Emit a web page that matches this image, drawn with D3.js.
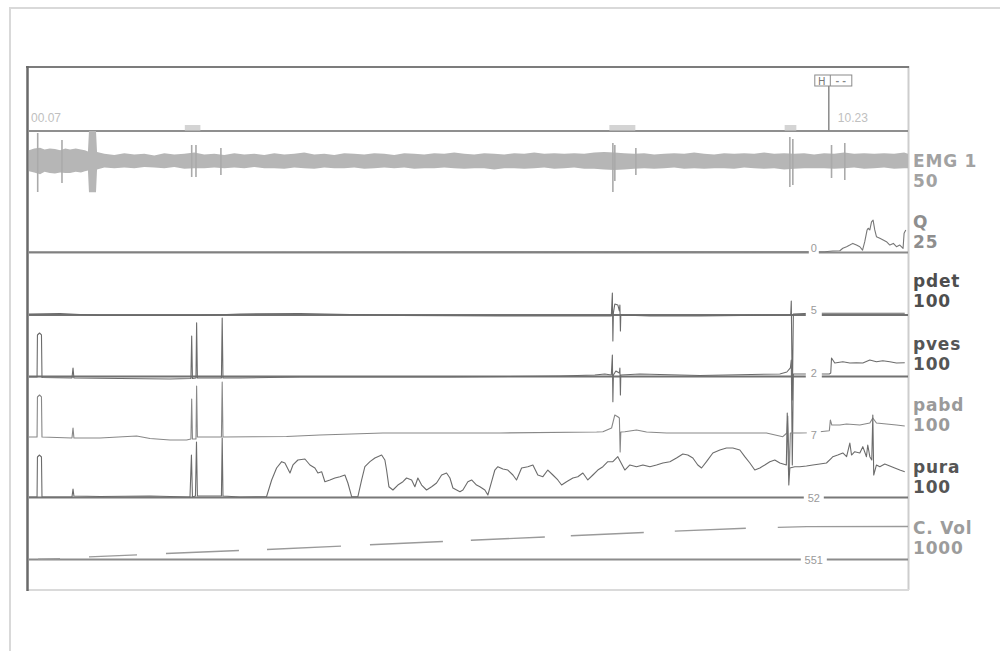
<!DOCTYPE html>
<html><head><meta charset="utf-8">
<script src="https://cdn.jsdelivr.net/npm/d3@7"></script>
<style>body{margin:0;background:#fff;}svg{display:block}</style>
</head><body>
<svg id="c" width="1000" height="651"></svg>
<script>
// ---------------- DATA ----------------
const channelNames  = ["EMG 1", "Q", "pdet", "pves", "pabd", "pura", "C. Vol"];
const rangeLabels   = ["50", "25", "100", "100", "100", "100", "1000"];
const channelRanges = [50, 25, 100, 100, 100, 100, 1000];
const timeLabels     = ["00.07", "10.23"];
const timeLabelTimes = [7, 623];          // seconds
const cursorTime = 623;
const cursorLabels = ["0", "5", "2", "7", "52", "551"];  // Q, pdet, pves, pabd, pura, C.Vol at cursor
const eventMarks = [[127, 139], [454, 474], [589, 598]];

// EMG envelope [t, up, down]
const emgEnvelope = [[7,18,17],[11,21,19],[15.5,22,22],[19,19,18],[23,21,20],[27,20,21],[31,18,19],[35,21,20],[38.6,19,20],[43,21,18],[47,19,19],[50.1,18,17],[52.4,16,16],[53.2,50,52],[58.6,50,52],[59.4,15,14],
[65,12,11],[72.7,10,12],[80.4,13,11],[88.1,11,12],[95.8,12,10],[103.5,9,11],[111.2,13,12],[118.9,11,10],[126.6,12,13],[134.3,14,12],[142,11,12],[149.7,12,11],[157.4,10,12],[165.1,13,11],[172.8,11,12],[180.5,12,10],[188.2,10,12],[195.9,13,12],[203.6,11,13],[211.3,12,11],[219,14,12],[226.7,11,13],[234.4,12,11],[242.1,10,12],[249.8,13,12],[257.5,12,11],[265.2,11,13],[272.9,13,12],[280.6,12,11],[288.3,10,12],[296,13,11],[303.7,12,13],[311.4,11,12],[319.1,13,12],[326.8,12,11],[334.5,14,12],[342.2,12,13],[349.9,11,12],[357.6,13,12],[365.3,12,14],[373,11,12],[380.7,13,12],[388.4,12,13],[396.1,14,12],[403.8,12,11],[411.5,13,13],[419.2,12,12],[426.9,13,11],[434.6,12,13],[442.3,14,13],[450,15,14],[457.7,14,15],[465.4,13,14],[473.1,12,13],[480.8,13,12],[488.5,11,13],[496.2,12,12],[503.9,13,11],[511.6,12,13],[519.3,14,12],[527,12,13],[534.7,11,12],[542.4,13,12],[550.1,12,13],[557.8,13,11],[565.5,12,12],[573.2,14,13],[580.9,12,12],[588.6,13,14],[596.3,12,13],[604,13,12],[611.7,11,12],[619.4,13,12],[627.1,12,13],[634.8,14,12],[642.5,12,11],[650.2,13,13],[657.9,12,12],[665.6,13,11],[673.3,12,13],[681,14,12],[684,12,12]];
// EMG spikes [t, up, down]
const emgSpikes = [[13.7,46.7,51.7],[32.4,35,36.7],[132.3,26.7,26.7],[135.6,26.7,26.7],[154.8,21.7,23.3],[456.7,30,51.7],[458.2,26.7,33.3],[474.4,21.7,23.3],[593,40,43.3],[595.3,36.7,40],[625.1,26.7,28.3],[635.3,30,31.7]];

const qData = [[7,0.2],[619.9,0.3],[626,0.6],[631.5,0.75],[633.8,1.75],[636.7,2.4],[639.2,3.1],[641.5,3.8],[644.3,3.1],[646.9,2.4],[649,1.0],[650.7,4.5],[652.5,9.4],[653.3,10.1],[654.6,9.4],[655.9,12.8],[657.1,13.5],[658.4,9.4],[659.7,6.6],[662.3,5.9],[664.9,5.2],[667.4,4.5],[670,3.1],[672.7,3.8],[675.1,2.4],[677.7,3.1],[680.2,1.75],[681,8.0],[682.3,9.4]];

const pdetData = [[7,1.7],[30.9,2.5],[61.7,-0.8],[138.7,-0.8],[169.5,1.7],[215.7,2.5],[292.7,-0.8],[369.7,-1.7],[455.5,-1.7],[456.3,36.7],[456.7,-43.3],[457.1,3.3],[458.2,18.3],[460.5,16.7],[461.7,6.7],[462.1,16.7],[462.5,-26.7],[462.8,0],[485.2,-1.7],[523.7,-1.7],[593,0],[593.7,1.7],[594.1,23.3],[594.9,-141.7],[595.7,1.7],[608.4,3],[681.5,3]];

const pvesData = [[7,-0.8],[13.2,-0.8],[13.5,69.2],[15.1,72.5],[16.6,69.2],[17,-1.7],[40.1,-2.5],[40.9,14.2],[41.6,-2.5],[77.1,-3.3],[115.6,-4.2],[131.7,-3.3],[132.3,67.5],[132.9,-3.3],[135.6,-2.5],[136.1,89.7],[136.7,-2.5],[155.2,-2.5],[155.8,97.5],[156.4,-2.5],[169.5,-2.5],[215.7,-0.8],[331.2,-0.8],[415.9,0.8],[442.8,2.5],[450.5,4.2],[455.5,2.5],[456.3,35.8],[456.7,-42],[457.1,2.5],[459,9.2],[461.7,5.8],[462.1,14.2],[462.5,-30.8],[462.8,2.5],[477.5,4.2],[523.7,1.7],[585.3,4.2],[590.7,7.5],[593.4,14.2],[594.1,27.5],[594.9,-147.5],[595.7,4.2],[600.7,4.2],[623.4,4.2],[624.5,5.8],[625.1,30.8],[627.6,22.5],[633.8,24.7],[639.2,22.5],[644.3,23],[649.2,22.5],[654.6,27.5],[659.7,24.7],[664.6,26.3],[670,24.7],[675.1,22.5],[681.5,23]];

const pabdData = [[7,0],[13.2,0],[13.5,66.7],[15.1,70],[16.6,66.7],[17,0],[40.1,-1.7],[40.9,15],[41.6,-1.7],[61.7,-1.7],[89.9,1.7],[100.2,-2.5],[115.6,-5],[128.4,-5],[131.7,-3.3],[132.3,63.3],[132.9,-3.3],[135.6,-3.3],[136.1,85],[136.7,0],[155.2,0],[155.8,91.7],[156.4,0],[179.5,0.5],[205.4,0.8],[231,3.3],[279.6,6.7],[369.7,6.7],[444.2,8.3],[449,8.8],[455.7,15],[458.2,36.7],[460.5,33.8],[461.7,31.7],[462.3,-25],[462.8,8.3],[465.9,8.8],[474.9,11.7],[482.6,8.3],[498,6.7],[575,6.7],[587.6,0.5],[590.7,6.7],[591.4,35],[592.6,-58.3],[593.4,6.7],[600.7,6.7],[608.4,7.2],[616.1,8.8],[623.4,10.5],[624.2,28.3],[625.3,20],[631.5,20],[636.7,21.7],[646.9,20],[654.6,23.3],[656.9,31.7],[659.7,23.3],[667.4,21.7],[675.1,20],[681.5,18.3]];

const puraData = [[7,0.8],[13.2,0.8],[13.5,67.5],[15.1,70.8],[16.6,67.5],[17,0.8],[40.1,0.8],[40.9,14.2],[41.6,2.5],[61.7,1.7],[100.2,2.5],[131,0.8],[132.1,70.8],[132.9,0.8],[135.2,2.5],[136,92.5],[136.7,2.5],[155.2,2.5],[155.8,99.2],[156.4,2.5],[169.5,0.8],[190,1.7],[193.9,29.2],[197.7,49.2],[201.6,59.7],[204.1,57.5],[208,40.8],[210.3,54.2],[214.1,62.5],[219.5,64.2],[223.4,54.2],[227.2,49.2],[229.5,40.8],[232.4,43],[234.9,26.3],[238.8,29.2],[242.6,32.5],[246.5,34.7],[250.3,37.5],[252.6,24.2],[255.5,1.3],[260.3,1.3],[263.2,29.2],[265.7,51.3],[269.6,59.7],[273.4,65.8],[278.6,70.8],[281.1,62.5],[282.4,45.8],[284.2,18],[287.3,12.5],[291.1,20.8],[295,26.3],[297.8,32.5],[301.7,29.2],[304.2,18],[306.5,32.5],[309.4,20.8],[313.2,12.5],[317.1,18],[320.9,24.2],[324.8,37.5],[328.6,40.8],[331.2,32.5],[333.5,15.8],[338.9,9.7],[341.2,12.5],[345,26.3],[347.9,29.2],[351.7,20.8],[354.3,18],[358.1,12.5],[360.4,4.2],[363.3,26.3],[365.8,45.8],[368.1,51.3],[372,47.5],[375.8,45.8],[379.7,37.5],[382.5,29.2],[386.4,49.2],[391.2,51.3],[395.1,54.2],[398.9,37.5],[402.8,34.7],[406.6,45.8],[410.5,37.5],[414.3,29.2],[417.2,20.8],[421,26.3],[425.9,32.5],[429.7,34.7],[433.6,40.8],[437.4,29.2],[441.3,37.5],[445.1,45.8],[449,51.3],[452.8,59.7],[456.7,59.7],[460.5,68],[465.9,45.8],[469.8,54.2],[474.9,51.3],[479.8,54.2],[485.2,51.3],[490.3,54.2],[495.2,57.5],[500.6,59.7],[505.7,65.8],[510.6,72.5],[514.4,70.8],[518.3,65.8],[522.1,54.2],[525,49.2],[528.8,59.7],[533.7,74.2],[539.1,79.2],[544.2,82.5],[549.1,82.5],[554.5,79.2],[558.3,68],[562.2,57.5],[566,45.8],[569.9,49.2],[573.7,54.2],[577.6,59.7],[581.4,62.5],[585.3,57.5],[590.3,54.2],[591,140.8],[592.2,20.8],[593,49.2],[596.8,51.3],[600.7,51.3],[605.8,52.5],[610.7,54.2],[616.1,55.8],[621.2,57.5],[625.1,65.8],[626.1,68],[629.9,70.8],[633.8,74.2],[636.7,68],[639.2,90.8],[640.5,70.8],[643,76.3],[646.9,74.2],[649.2,84.7],[652,68],[653,87.5],[654.6,68],[656.1,62.5],[656.9,137.5],[657.6,37.5],[659.7,54.2],[662.3,51.3],[666.1,55.8],[670,52.5],[673.8,49.2],[677.7,45.8],[681.5,43]];

// C. Vol (null = recording gap)
const cvolData = [[13.9,7],[30.9,13],[31,null],[53.2,43],[90.2,77],[91,null],[112.5,100],[168.7,150],[169,null],[190.3,167],[247.3,223],[248,null],[269.6,245],[325.8,300],[326,null],[347.3,320],[404.3,375],[405,null],[424.3,395],[480.5,450],[481,null],[504.4,473],[559.1,520],[560,null],[583.7,535],[606.1,548],[684,551]];

// ---------------- LAYOUT ----------------
const svg = d3.select("#c");
const X0 = 29, X1 = 908;
const x = d3.scaleLinear().domain([7, 684]).range([X0, X1]);
const H = 60;
const bases = [191, 252.5, 315, 376.5, 437, 497.5, 559.5];
const yEMG = d3.scaleLinear().domain([-channelRanges[0], channelRanges[0]]).range([bases[0], bases[0] - H]);
const yCh = bases.map((b, i) => d3.scaleLinear().domain([0, channelRanges[i]]).range([b, b - H]));

// outer frame
svg.append("path").attr("d", "M10,651V8H1000").attr("fill", "none").attr("stroke", "#d9d9d9").attr("stroke-width", 2);
// chart frame
svg.append("line").attr("x1", 908.5).attr("x2", 908.5).attr("y1", 66).attr("y2", 590).attr("stroke", "#cdcdcd").attr("stroke-width", 2);
svg.append("line").attr("x1", 27).attr("x2", 909).attr("y1", 590).attr("y2", 590).attr("stroke", "#dadada").attr("stroke-width", 2);
svg.append("line").attr("x1", 26).attr("x2", 909).attr("y1", 67).attr("y2", 67).attr("stroke", "#7c7c7c").attr("stroke-width", 2);
svg.append("line").attr("x1", 27.5).attr("x2", 27.5).attr("y1", 66).attr("y2", 591).attr("stroke", "#6a6a6a").attr("stroke-width", 2.5);

// time axis line
const timeY = 131;
svg.append("line").attr("x1", X0).attr("x2", X1).attr("y1", timeY).attr("y2", timeY).attr("stroke", "#8f8f8f").attr("stroke-width", 2);
svg.selectAll("rect.ev").data(eventMarks).join("rect").attr("class", "ev")
  .attr("x", d => x(d[0])).attr("width", d => x(d[1]) - x(d[0]))
  .attr("y", timeY - 6).attr("height", 5.5).attr("fill", "#d4d4d4");
svg.selectAll("text.tl").data(timeLabels).join("text").attr("class", "tl")
  .attr("x", (d, i) => x(timeLabelTimes[i]) + (i === 0 ? 2 : 9)).attr("y", 121.5)
  .attr("font-family", "Liberation Sans, Arial, sans-serif").attr("font-size", 12)
  .attr("fill", "#c0c0c0").text(d => d);

// cursor
const cx = x(cursorTime);
svg.append("line").attr("x1", cx).attr("x2", cx).attr("y1", 86).attr("y2", timeY).attr("stroke", "#8a8a8a").attr("stroke-width", 1.5);
svg.append("rect").attr("x", cx - 14).attr("y", 75).attr("width", 37).attr("height", 11).attr("fill", "#fff").attr("stroke", "#8a8a8a").attr("stroke-width", 1);
svg.append("line").attr("x1", cx + 1.5).attr("x2", cx + 1.5).attr("y1", 75).attr("y2", 86).attr("stroke", "#8a8a8a");
svg.append("text").attr("x", cx - 7).attr("y", 84.5).attr("text-anchor", "middle").attr("font-family", "DejaVu Sans, sans-serif").attr("font-size", 10).attr("fill", "#777").text("H");
svg.append("text").attr("x", cx + 12).attr("y", 83.5).attr("text-anchor", "middle").attr("font-family", "DejaVu Sans, sans-serif").attr("font-size", 9).attr("font-weight", "bold").attr("fill", "#888").text("- -");

// baselines
const lineCols = [null, "#8a8a8a", "#727272", "#727272", null, "#787878", "#8c8c8c"];
bases.forEach((b, i) => {
  if (!lineCols[i]) return;
  svg.append("line").attr("x1", X0).attr("x2", X1).attr("y1", yCh[i](0)).attr("y2", yCh[i](0)).attr("stroke", lineCols[i]).attr("stroke-width", 2);
});

// EMG
const emgArea = d3.area().x(d => x(d[0])).y0(d => yEMG(-d[2])).y1(d => yEMG(d[1]));
svg.append("path").datum(emgEnvelope).attr("d", emgArea).attr("fill", "#b6b6b6");
svg.selectAll("line.sp").data(emgSpikes).join("line").attr("class", "sp")
  .attr("x1", d => x(d[0])).attr("x2", d => x(d[0]))
  .attr("y1", d => yEMG(d[1])).attr("y2", d => yEMG(-d[2]))
  .attr("stroke", "#aaaaaa").attr("stroke-width", 1.6);

// traces
const traces = [qData, pdetData, pvesData, pabdData, puraData];
const traceCols = ["#777", "#6a6a6a", "#6c6c6c", "#888", "#6c6c6c"];
traces.forEach((data, k) => {
  const ys = yCh[k + 1];
  const ln = d3.line().x(d => x(d[0])).y(d => ys(d[1]));
  svg.append("path").datum(data).attr("d", ln).attr("fill", "none")
    .attr("stroke", traceCols[k]).attr("stroke-width", 1.1).attr("stroke-linejoin", "round");
});
const cvLine = d3.line().defined(d => d[1] != null).x(d => x(d[0])).y(d => yCh[6](d[1]));
svg.append("path").datum(cvolData).attr("d", cvLine).attr("fill", "none").attr("stroke", "#9a9a9a").attr("stroke-width", 1.4);

// cursor value labels (on the baselines)
const vlab = [
  {ch: 1, dy: -1, w: 10}, {ch: 2, dy: -1, w: 16}, {ch: 3, dy: 0, w: 16},
  {ch: 4, dy: 2, w: 14}, {ch: 5, dy: 4, w: 20}, {ch: 6, dy: 4, w: 26}
];
vlab.forEach((v, i) => {
  const by = yCh[v.ch](0);
  svg.append("rect").attr("x", cx - 15 - v.w / 2).attr("y", by - 8).attr("width", v.w).attr("height", 12).attr("fill", "#fff");
  svg.append("text").attr("x", cx - 15).attr("y", by + v.dy).attr("text-anchor", "middle")
    .attr("font-family", "Liberation Sans, Arial, sans-serif").attr("font-size", 11).attr("fill", "#9a9a9a")
    .text(cursorLabels[i]);
});

// right-hand channel labels (name above range)
const rangeY = [187, 248, 307, 370, 431, 493, 554];
const labCols = ["#a2a2a2", "#8e8e8e", "#4e4e4e", "#555", "#9a9a9a", "#555", "#9c9c9c"];
channelNames.forEach((n, i) => {
  const common = s => s.attr("font-family", "DejaVu Sans, Verdana, sans-serif").attr("font-weight", "bold")
    .attr("font-size", 17).attr("letter-spacing", 0.8).attr("fill", labCols[i]).attr("x", 913);
  svg.append("text").call(common).attr("y", rangeY[i] - 20.2).text(n);
  svg.append("text").call(common).attr("y", rangeY[i]).text(rangeLabels[i]);
});
</script>
</body></html>
